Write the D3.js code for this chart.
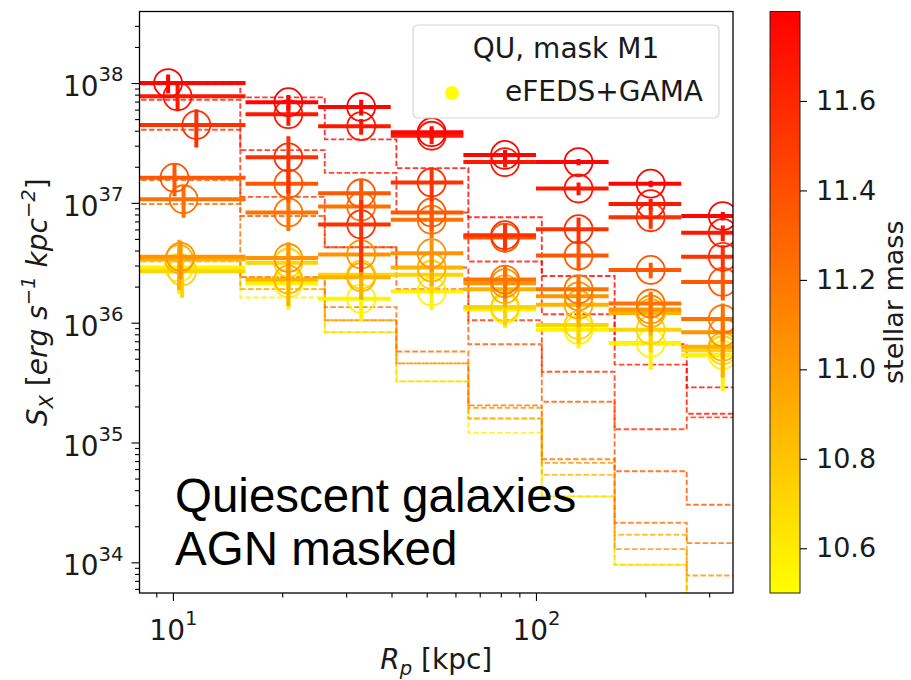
<!DOCTYPE html>
<html>
<head>
<meta charset="utf-8">
<script src="https://cdn.jsdelivr.net/npm/d3@7"></script>
<style>
body { margin: 0; background: #fff; }
text { font-family: "DejaVu Sans", sans-serif; fill: #1a1a1a; }
</style>
</head>
<body>
<div id="chart"></div>
<script>
// stellar mass of each stacked profile (log Msun)
var masses = [11.78, 11.68, 11.55, 11.35, 11.22, 11.05, 10.90, 10.72, 10.56];
// radial bins [kpc]
var rEdges = [3, 15.85, 25.12, 39.81, 63.10, 100, 158.5, 251.2, 398.1];
var rMean = [11.3, 20.8, 33.0, 51.6, 82.2, 131, 207, 327];
var rFirst = [9.7, 10.3, 11.6, 10.1, 10.7, 10.5, 10.4, 10.6, 10.4];
// log10 S_X of the points, one row per mass bin
var logSx = [
  [38.00, 37.84, 37.80, 37.59, 37.40, 37.34, 37.16, 36.89],
  [37.89, 37.74, 37.64, 37.56, 37.34, 37.12, 36.99, 36.75],
  [37.65, 37.38, 36.82, 37.17, 36.73, 36.78, 36.88, 36.55],
  [37.21, 37.16, 37.08, 36.92, 36.71, 36.56, 36.44, 36.34],
  [37.03, 36.92, 36.97, 36.86, 36.36, 36.28, 36.16, 36.03],
  [36.55, 36.54, 36.57, 36.58, 36.33, 36.22, 36.11, 35.92],
  [36.53, 36.36, 36.38, 36.46, 36.28, 36.15, 36.08, 35.80],
  [36.43, 36.50, 36.40, 36.40, 36.13, 35.98, 35.94, 35.77],
  [36.46, 36.33, 36.20, 36.26, 36.11, 35.94, 35.83, 35.73]
];
// relative errors
var errFrac = [
  [0.18, 0.15, 0.15, 0.12, 0.10, 0.06, 0.06, 0.08],
  [0.25, 0.20, 0.15, 0.15, 0.10, 0.12, 0.10, 0.15],
  [0.35, 0.50, 0.60, 0.30, 0.25, 0.25, 0.20, 0.25],
  [0.30, 0.30, 0.30, 0.30, 0.25, 0.25, 0.15, 0.30],
  [0.30, 0.30, 0.30, 0.30, 0.30, 0.30, 0.25, 0.35],
  [0.35, 0.35, 0.35, 0.30, 0.30, 0.35, 0.35, 0.40],
  [0.45, 0.40, 0.35, 0.30, 0.30, 0.35, 0.35, 0.45],
  [0.40, 0.40, 0.35, 0.30, 0.30, 0.30, 0.35, 0.40],
  [0.40, 0.40, 0.35, 0.30, 0.30, 0.30, 0.40, 0.50]
];
// log10 of the dashed step profiles
var logStep = [
  [37.99, 37.88, 37.53, 37.29, 36.88, 36.39, 35.82, 35.46],
  [37.86, 37.44, 37.25, 36.92, 36.51, 36.07, 35.65, 35.24],
  [37.61, 37.05, 36.63, 36.46, 36.02, 35.59, 35.11, 35.21],
  [37.19, 36.89, 36.63, 36.28, 35.82, 35.34, 34.76, 34.48],
  [36.99, 36.38, 36.13, 35.76, 35.31, 34.86, 34.33, 34.16],
  [36.54, 36.38, 36.02, 35.66, 35.29, 34.83, 34.11, 33.89],
  [36.51, 36.28, 36.02, 35.66, 35.20, 34.73, 34.23, 33.69],
  [36.44, 36.28, 35.92, 35.51, 35.20, 34.55, 33.98, 33.27],
  [36.46, 36.21, 35.92, 35.51, 35.08, 34.55, 33.98, 32.85]
];
var yMajorExp = [34, 35, 36, 37, 38];
var xMajorExp = [1, 2];
var cbTicks = [10.6, 10.8, 11.0, 11.2, 11.4, 11.6];

var margin = {top: 11.5, left: 139.5},
width = 593.5,
height = 581.5;

var svg = d3.select("#chart")
.append("svg")
.attr("width", 911)
.attr("height", 680);

var g = svg.append("g")
.attr("transform", "translate(" + margin.left + "," + margin.top + ")");

var x = d3.scaleLog().domain([8.09, 348.9]).range([0, width]);
var y = d3.scaleLog().domain([Math.pow(10, 33.744), Math.pow(10, 38.597)]).range([height, 0]);
var color = d3.scaleLinear().domain([10.5, 11.8]).range(["#ffff00", "#ff0000"]);

svg.append("defs").append("clipPath").attr("id", "clip")
.append("rect").attr("width", width).attr("height", height);

var plot = g.append("g").attr("clip-path", "url(#clip)");

// dashed step lines (steps-mid)
function stepPoints(vals) {
  var pts = [[rEdges[0], vals[0]]];
  for (var i = 0; i < vals.length - 1; i++) {
    var m = Math.sqrt(rMean[i] * rMean[i + 1]);
    pts.push([m, vals[i]]);
    pts.push([m, vals[i + 1]]);
  }
  pts.push([rEdges[rEdges.length - 1], vals[vals.length - 1]]);
  return pts;
}
var line = d3.line()
.x(function(d) { return x(d[0]); })
.y(function(d) { return y(Math.pow(10, d[1])); });

for (var p = masses.length - 1; p >= 0; p--) {
  plot.append("path")
  .attr("d", line(stepPoints(logStep[p])))
  .attr("fill", "none")
  .attr("stroke", color(masses[p]))
  .attr("stroke-width", 1.9)
  .attr("stroke-dasharray", "5.5,2.4")
  .attr("opacity", 0.8);
}

// points with error bars
for (var p = masses.length - 1; p >= 0; p--) {
  var c = color(masses[p]);
  var pg = plot.append("g");
  logSx[p].forEach(function(v, i) {
    var s = Math.pow(10, v);
    var xc = i == 0 ? rFirst[p] : rMean[i];
    pg.append("line")
    .attr("x1", x(rEdges[i])).attr("x2", x(rEdges[i + 1]))
    .attr("y1", y(s)).attr("y2", y(s))
    .attr("stroke", c).attr("stroke-width", 4);
    pg.append("line")
    .attr("x1", x(xc)).attr("x2", x(xc))
    .attr("y1", y(s * (1 - errFrac[p][i]))).attr("y2", y(s * (1 + errFrac[p][i])))
    .attr("stroke", c).attr("stroke-width", 4);
    pg.append("circle")
    .attr("cx", x(xc)).attr("cy", y(s)).attr("r", 14)
    .attr("fill", "none").attr("stroke", c).attr("stroke-width", 1.8);
  });
}

// axes
var yMinor = [];
for (var e = 33; e <= 38; e++) for (var k = 2; k <= 9; k++) {
  var v = k * Math.pow(10, e);
  if (v > y.domain()[0] && v < y.domain()[1]) yMinor.push(v);
}
var xMinor = [9, 20, 30, 40, 50, 60, 70, 80, 90, 200, 300];

g.append("g").call(d3.axisLeft(y).tickValues(yMinor).tickSize(4.5).tickFormat(""))
.call(function(a) { a.select(".domain").remove(); });
var yAx = g.append("g").call(d3.axisLeft(y).tickValues(yMajorExp.map(function(e) { return Math.pow(10, e); }))
.tickSize(8).tickPadding(8).tickFormat(""));
yAx.select(".domain").remove();
yAx.selectAll(".tick text").attr("font-size", 28).attr("dy", "0.45em").each(function(d) {
  var t = d3.select(this);
  t.append("tspan").text("10");
  t.append("tspan").attr("font-size", "0.7em").attr("dy", "-0.75em").text(Math.round(Math.log10(d)));
});

g.append("g").attr("transform", "translate(0," + height + ")")
.call(d3.axisBottom(x).tickValues(xMinor).tickSize(4.5).tickFormat(""))
.call(function(a) { a.select(".domain").remove(); });
var xAx = g.append("g").attr("transform", "translate(0," + height + ")")
.call(d3.axisBottom(x).tickValues(xMajorExp.map(function(e) { return Math.pow(10, e); }))
.tickSize(8).tickPadding(19).tickFormat(""));
xAx.select(".domain").remove();
xAx.selectAll(".tick text").attr("font-size", 28).each(function(d) {
  var t = d3.select(this);
  t.append("tspan").text("10");
  t.append("tspan").attr("font-size", "0.7em").attr("dy", "-0.75em").text(Math.round(Math.log10(d)));
});
g.selectAll(".tick line").attr("stroke", "#000").attr("stroke-width", 1.1);

g.append("rect").attr("width", width).attr("height", height)
.attr("fill", "none").attr("stroke", "#000").attr("stroke-width", 1.3);

// axis labels
var xl = svg.append("text").attr("x", margin.left + width / 2).attr("y", 669)
.attr("text-anchor", "middle").attr("font-size", 28);
xl.append("tspan").attr("font-style", "italic").text("R");
xl.append("tspan").attr("font-style", "italic").attr("font-size", "0.7em").attr("dy", "0.3em").text("p");
xl.append("tspan").attr("dy", "-0.21em").text(" [kpc]");

var yl = svg.append("text").attr("transform", "translate(47," + (margin.top + height / 2) + ") rotate(-90)")
.attr("text-anchor", "middle").attr("font-size", 28);
yl.append("tspan").attr("font-style", "italic").text("S");
yl.append("tspan").attr("font-style", "italic").attr("font-size", "0.7em").attr("dy", "0.3em").text("X");
yl.append("tspan").attr("dy", "-0.21em").text(" [");
yl.append("tspan").attr("font-style", "italic").text("erg s");
yl.append("tspan").attr("font-style", "italic").attr("font-size", "0.7em").attr("dy", "-0.6em").text("\u22121");
yl.append("tspan").attr("font-style", "italic").attr("dy", "0.42em").text(" kpc");
yl.append("tspan").attr("font-style", "italic").attr("font-size", "0.7em").attr("dy", "-0.6em").text("\u22122");
yl.append("tspan").attr("dy", "0.42em").text("]");

// annotation
var ann = svg.append("text")
.attr("font-size", 47.5).style("font-family", "'Liberation Sans', Arial, sans-serif").style("fill", "#000");
ann.append("tspan").attr("x", 175).attr("y", 512).text("Quiescent galaxies");
ann.append("tspan").attr("x", 175).attr("y", 565).text("AGN masked");

// legend
var lg = svg.append("g");
lg.append("rect").attr("x", 413).attr("y", 25).attr("width", 306).attr("height", 93).attr("rx", 5)
.attr("fill", "#fff").attr("fill-opacity", 0.8).attr("stroke", "#d6d6d6").attr("stroke-width", 1.2);
lg.append("text").attr("x", 566).attr("y", 58).attr("text-anchor", "middle").attr("font-size", 28).text("QU, mask M1");
lg.append("circle").attr("cx", 452).attr("cy", 93).attr("r", 7).attr("fill", "#ffff00");
lg.append("text").attr("x", 505).attr("y", 101).attr("font-size", 28).text("eFEDS+GAMA");

// colorbar
var cbX = 770, cbW = 30;
var grad = svg.select("defs").append("linearGradient").attr("id", "cbgrad")
.attr("x1", 0).attr("y1", 1).attr("x2", 0).attr("y2", 0);
grad.append("stop").attr("offset", "0%").attr("stop-color", color(10.5));
grad.append("stop").attr("offset", "100%").attr("stop-color", color(11.8));
var cbScale = d3.scaleLinear().domain([10.5, 11.8]).range([margin.top + height, margin.top]);
svg.append("rect").attr("x", cbX).attr("y", margin.top).attr("width", cbW).attr("height", height)
.attr("fill", "url(#cbgrad)").attr("stroke", "#222").attr("stroke-width", 1);
var cbAx = svg.append("g").attr("transform", "translate(" + (cbX + cbW) + ",0)")
.call(d3.axisRight(cbScale).tickValues(cbTicks).tickSize(7).tickPadding(9).tickFormat(d3.format(".1f")));
cbAx.select(".domain").remove();
cbAx.selectAll(".tick line").attr("stroke", "#000").attr("stroke-width", 1.1);
cbAx.selectAll(".tick text").attr("font-size", 27).attr("font-family", "DejaVu Sans");
svg.append("text").attr("transform", "translate(903," + (margin.top + height / 2) + ") rotate(-90)")
.attr("text-anchor", "middle").attr("font-size", 27).text("stellar mass");
</script>
</body>
</html>
